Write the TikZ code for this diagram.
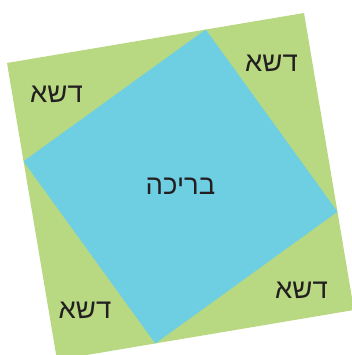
\documentclass[tikz,border=0pt]{standalone}
\usepackage{fontspec}
\newfontfamily\hebfont[Script=Hebrew]{Liberation Sans}
\TeXXeTstate=1
\definecolor{lawngreen}{RGB}{184,217,130}
\definecolor{poolblue}{RGB}{110,206,226}
\definecolor{labelgray}{RGB}{35,31,32}
\begin{document}
\begin{tikzpicture}[x=1pt,y=-1pt,
  areatext/.style={text=labelgray,font=\hebfont\fontsize{27.5}{27.5}\selectfont,inner sep=0pt}]
  \useasboundingbox (0,0) rectangle (352,355);
  \clip (0,0) rectangle (352,355);
  % lawn, tilted square
  \fill[lawngreen] (7,63) -- (304,13) -- (354,310) -- (57,360) -- cycle;
  % pool, corners on the lawn edges
  \fill[poolblue] (205.7,29.5) -- (337.5,211.7) -- (155.3,343.5) -- (23.5,161.3) -- cycle;
  \node[areatext] (pool) at (180.5,186.5) {\beginR בריכה\endR};
  \node[areatext] (grassnw) at (56.5,94.5) {\beginR דשא\endR};
  \node[areatext] (grassne) at (271.5,63.5) {\beginR דשא\endR};
  \node[areatext] (grassse) at (301.5,290.5) {\beginR דשא\endR};
  \node[areatext] (grasssw) at (85,310) {\beginR דשא\endR};
\end{tikzpicture}
\end{document}
